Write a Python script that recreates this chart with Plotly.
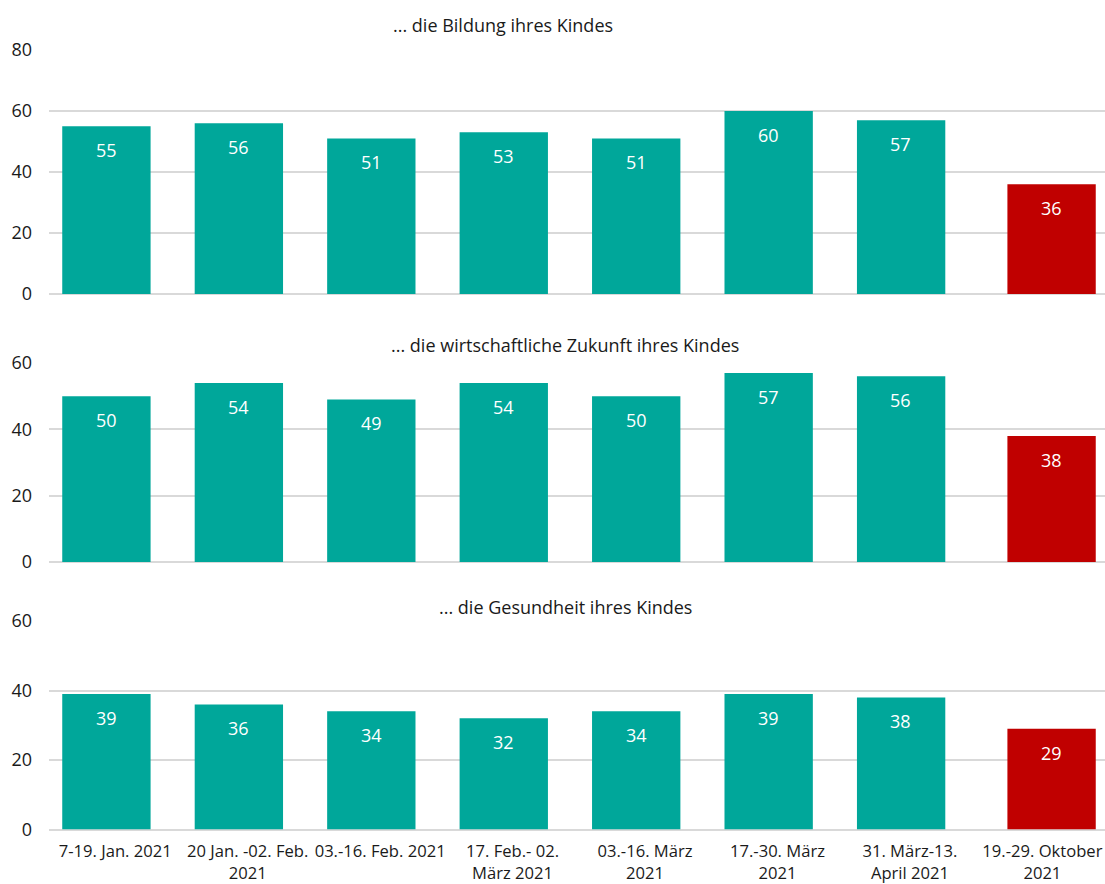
import plotly.graph_objects as go
from plotly.subplots import make_subplots

periods = [
    "7-19. Jan. 2021",
    "20 Jan. -02. Feb.<br>2021",
    "03.-16. Feb. 2021",
    "17. Feb.- 02.<br>März 2021",
    "03.-16. März<br>2021",
    "17.-30. März<br>2021",
    "31. März-13.<br>April 2021",
    "19.-29. Oktober<br>2021",
]
titles = [
    "... die Bildung ihres Kindes",
    "... die wirtschaftliche Zukunft ihres Kindes",
    "... die Gesundheit ihres Kindes",
]
bildung = [55, 56, 51, 53, 51, 60, 57, 36]
wirtschaft = [50, 54, 49, 54, 50, 57, 56, 38]
gesundheit = [39, 36, 34, 32, 34, 39, 38, 29]
panels = [bildung, wirtschaft, gesundheit]
y_max = [80, 60, 60]

GREEN = "#00A79A"
RED = "#C00000"
GRID = "#D9D9D9"
FONT = "Open Sans, sans-serif"
TXT = "#1a1a1a"
FS = 18
FS_X = 16.6

W, H = 1105, 884
PLOT_L = 49  # px where plot area starts
SLOT = 132.45

def yp(px):
    return 1 - px / H

def xp(px):
    return (px - PLOT_L) / (W - PLOT_L)

domains = [(yp(294), yp(50)), (yp(562), yp(363)), (yp(829.5), yp(621))]
title_pos = [(503, 25), (565, 345), (565, 607)]

fig = make_subplots(rows=3, cols=1, shared_xaxes=False)

bar_w = 0.667
for i, vals in enumerate(panels):
    r = i + 1
    fig.add_trace(go.Bar(x=periods[:7], y=vals[:7], marker=dict(color=GREEN, line=dict(width=0)),
                         width=bar_w, offset=-0.4, showlegend=False, hoverinfo="x+y"), row=r, col=1)
    fig.add_trace(go.Bar(x=periods[7:], y=vals[7:], marker=dict(color=RED, line=dict(width=0)),
                         width=bar_w, offset=-0.264, showlegend=False, hoverinfo="x+y"), row=r, col=1)
    xref = "x" if r == 1 else f"x{r}"
    yref = "y" if r == 1 else f"y{r}"
    for j, (p, v) in enumerate(zip(periods, vals)):
        fig.add_annotation(x=p, y=v, xref=xref, yref=yref, text=str(v), showarrow=False,
                           yshift=-24, xshift=(-9 if j < 7 else 9),
                           font=dict(family=FONT, size=FS, color="white"))
    tx, ty = title_pos[i]
    fig.add_annotation(x=xp(tx), y=yp(ty), xref="paper", yref="paper",
                       text=titles[i], showarrow=False, xanchor="center", yanchor="middle",
                       font=dict(family=FONT, size=FS, color=TXT))
    fig.update_yaxes(row=r, col=1, domain=list(domains[i]), range=[0, y_max[i]], dtick=20,
                     showgrid=True, gridcolor=GRID, gridwidth=1.5,
                     zeroline=True, zerolinecolor=GRID, zerolinewidth=1.5,
                     showline=False, ticks="", ticklabelstandoff=16, automargin=False,
                     tickfont=dict(family=FONT, size=FS, color=TXT))
    fig.update_xaxes(row=r, col=1, type="category", categoryorder="array", categoryarray=periods,
                     range=[-0.5, -0.5 + (W - PLOT_L) / SLOT], showgrid=False, zeroline=False,
                     showline=False, ticks="", showticklabels=(r == 3), ticklabelstandoff=10,
                     automargin=False, tickfont=dict(family=FONT, size=FS_X, color=TXT), tickangle=0)

fig.update_layout(
    width=W, height=H, barmode="overlay",
    margin=dict(l=PLOT_L, r=0, t=0, b=0, autoexpand=False),
    paper_bgcolor="white", plot_bgcolor="white",
    font=dict(family=FONT, size=FS, color=TXT),
)
fig.write_html("out.html", config={"displayModeBar": False},
               post_script="document.body.style.margin='0';document.body.style.overflow='hidden';")
